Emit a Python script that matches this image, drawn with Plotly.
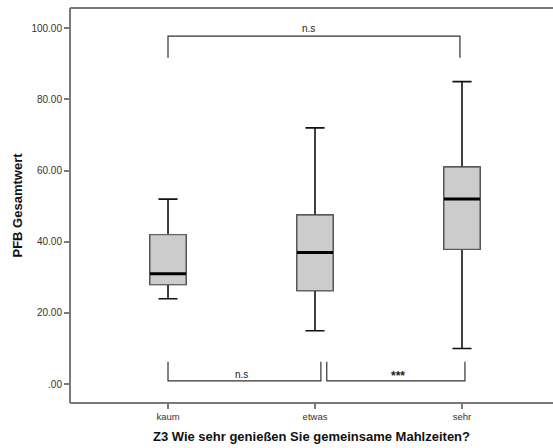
import plotly.graph_objects as go

categories = ["kaum", "etwas", "sehr"]
lower_whisker = [24, 15, 10]
q1 = [28, 26.3, 37.9]
median = [31, 37, 52]
q3 = [42, 47.5, 61]
upper_whisker = [52, 72, 85]

y_tickvals = [0, 20, 40, 60, 80, 100]
y_ticktext = [".00", "20.00", "40.00", "60.00", "80.00", "100.00"]

# significance brackets: (x_left, x_right, y_line, y_tip, label, label_x, label_y)
brackets = [
    (0.0, 1.986, 97.8, 91.7, "n.s", 0.954, 100.0),
    (0.0, 1.04, 0.9, 6.3, "n.s", 0.50, 2.6),
    (1.08, 2.02, 0.9, 6.3, "<b>***</b>", 1.567, 2.4),
]

AXC = "#7a7a7a"
FONT = "Liberation Sans, Arial"
fig = go.Figure()

xpos = list(range(len(categories)))
box_w = 0.245
for i, c in enumerate(categories):
    fig.add_trace(go.Box(
        x=[xpos[i]], q1=[q1[i]], median=[median[i]], q3=[q3[i]],
        lowerfence=[lower_whisker[i]], upperfence=[upper_whisker[i]],
        fillcolor="#cccccc", line=dict(color="#111111", width=1.6),
        width=box_w, whiskerwidth=0.53, boxpoints=False, showlegend=False,
        hoverinfo="skip",
    ))
    fig.add_shape(type="rect", xref="x", yref="y",
                  x0=xpos[i] - box_w / 2, x1=xpos[i] + box_w / 2, y0=q1[i], y1=q3[i],
                  fillcolor="#cccccc", line=dict(color="#666666", width=1.2))
    fig.add_shape(type="line", xref="x", yref="y",
                  x0=xpos[i] - box_w / 2, x1=xpos[i] + box_w / 2, y0=median[i], y1=median[i],
                  line=dict(color="black", width=3))

for (xl, xrr, yl, yt, lab, lx, ly) in brackets:
    fig.add_trace(go.Scatter(
        x=[xl, xl, xrr, xrr], y=[yt, yl, yl, yt], mode="lines",
        line=dict(color="#333333", width=1.2), showlegend=False, hoverinfo="skip"))
    fig.add_annotation(x=lx, y=ly, xref="x", yref="y", text=lab, showarrow=False,
                       font=dict(family=FONT, size=10 if lab == "n.s" else 12, color="#222222"),
                       yanchor="middle")

# frame: left, top, bottom only (extends past the right edge)
fig.add_shape(type="line", xref="paper", yref="paper", x0=0, x1=0, y0=0, y1=1,
              line=dict(color=AXC, width=2))
fig.add_shape(type="line", xref="paper", yref="paper", x0=0, x1=1.05, y0=1, y1=1,
              line=dict(color=AXC, width=2))
fig.add_shape(type="line", xref="paper", yref="paper", x0=0, x1=1.05, y0=0, y1=0,
              line=dict(color=AXC, width=2))

fig.update_layout(
    width=553, height=448,
    margin=dict(l=70, r=0, t=8, b=45, pad=0),
    plot_bgcolor="white", paper_bgcolor="white",
    font=dict(family=FONT, color="#222222"),
    xaxis=dict(
        range=[-0.6667, 2.619], tickvals=xpos, ticktext=categories,
        showline=False, ticks="outside", ticklen=5, tickcolor=AXC, tickwidth=1.5,
        showgrid=False, zeroline=False,
        tickfont=dict(size=9.5, color="#333333"),
        title=dict(text="<b>Z3 Wie sehr genießen Sie gemeinsame Mahlzeiten?</b>",
                   font=dict(size=13, color="#111111"), standoff=10),
    ),
    yaxis=dict(
        range=[-5.3, 105.7], tickvals=y_tickvals, ticktext=y_ticktext,
        showline=False, ticks="outside", ticklen=5, tickcolor=AXC, tickwidth=1.5,
        showgrid=False, zeroline=False,
        tickfont=dict(size=10, color="#333333"),
        title=dict(text="<b>PFB Gesamtwert</b>", font=dict(size=13, color="#111111"),
                   standoff=5),
    ),
)

fig.write_html("out.html", config={"displayModeBar": False})
